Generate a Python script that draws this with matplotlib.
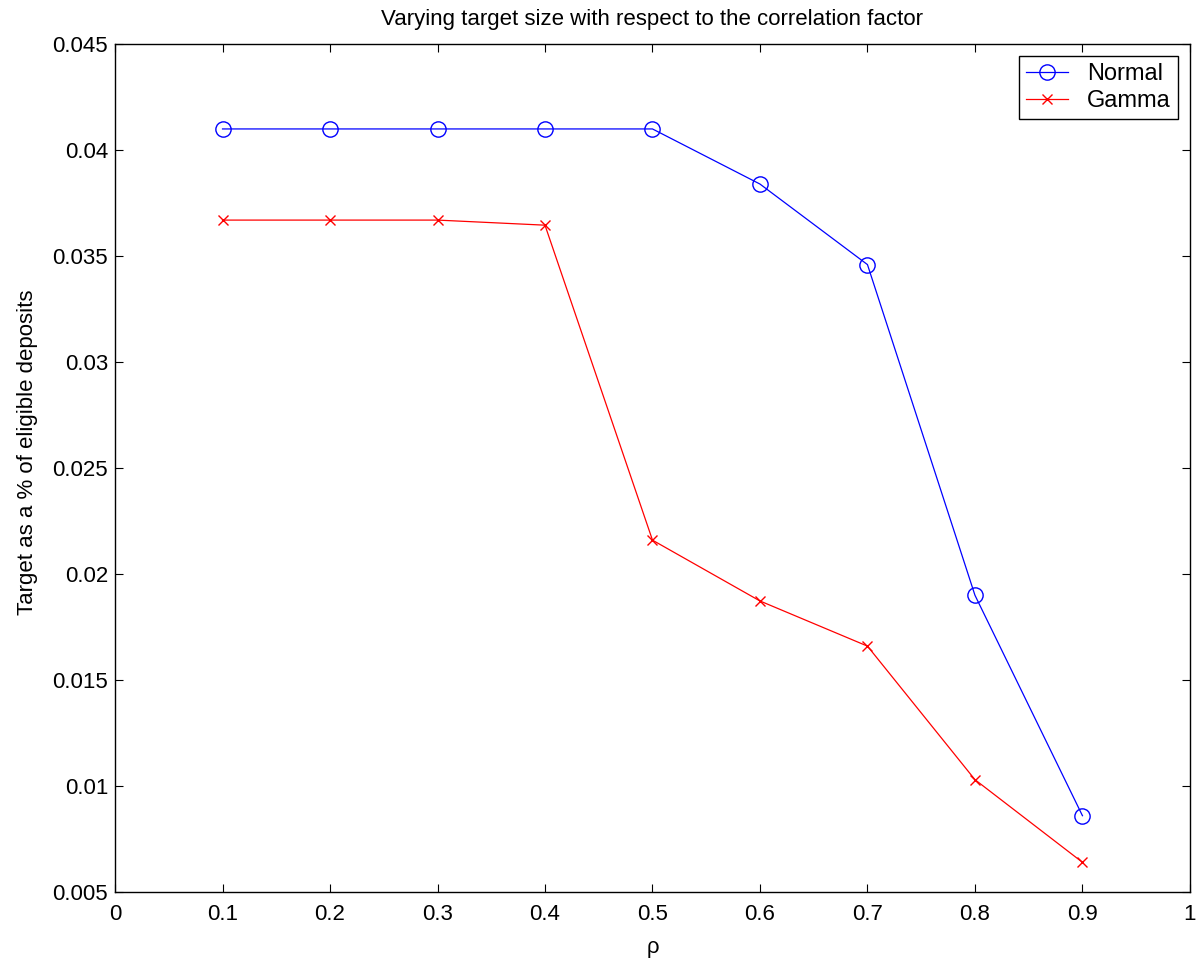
import matplotlib
matplotlib.use("Agg")
import matplotlib.pyplot as plt

# valeurs
rho = [0.1, 0.2, 0.3, 0.4, 0.5, 0.6, 0.7, 0.8, 0.9]
normal = [0.0410, 0.0410, 0.0410, 0.0410, 0.0410, 0.0384, 0.0346, 0.0190, 0.0086]
gamma = [0.0367, 0.0367, 0.0367, 0.03646, 0.0216, 0.01873, 0.0166, 0.01030, 0.0064]

x_ticks = [0, 0.1, 0.2, 0.3, 0.4, 0.5, 0.6, 0.7, 0.8, 0.9, 1]
y_ticks = [0.005, 0.01, 0.015, 0.02, 0.025, 0.03, 0.035, 0.04, 0.045]

plt.rcParams['font.family'] = ['Liberation Sans', 'DejaVu Sans']
plt.rcParams['font.size'] = 16

fig = plt.figure(figsize=(11.97, 9.58), dpi=100)
ax = fig.add_axes([0.0961, 0.0689, 0.898, 0.885])

ax.plot(rho, normal, color='blue', marker='o', markersize=11, markerfacecolor='none',
        linewidth=0.9, label='Normal')
ax.plot(rho, gamma, color='red', marker='x', markersize=7, linewidth=0.9, label='Gamma')

ax.set_xlim(0, 1)
ax.set_ylim(0.005, 0.045)
ax.set_xticks(x_ticks)
ax.set_xticklabels([f"{t:g}" for t in x_ticks])
ax.set_yticks(y_ticks)
ax.set_yticklabels([f"{t:g}" for t in y_ticks])
ax.tick_params(direction='in', top=True, right=True, length=6)
ax.tick_params(axis='x', pad=9)
ax.tick_params(axis='y', pad=5)
for s in ax.spines.values():
    s.set_linewidth(1.0)

ax.set_title("Varying target size with respect to the correlation factor",
             fontsize=16, pad=14)
ax.set_xlabel("ρ", labelpad=8)
ax.set_ylabel("Target as a % of eligible deposits")
ax.yaxis.set_label_coords(-0.072, 0.519)

leg = ax.legend(loc='upper right', fancybox=False, edgecolor='black', framealpha=1,
                fontsize=17, borderaxespad=0.5, handlelength=1.8, handletextpad=0.8,
                labelspacing=0.2, borderpad=0.3)
leg.get_frame().set_linewidth(1.0)

fig.savefig("out.png")
